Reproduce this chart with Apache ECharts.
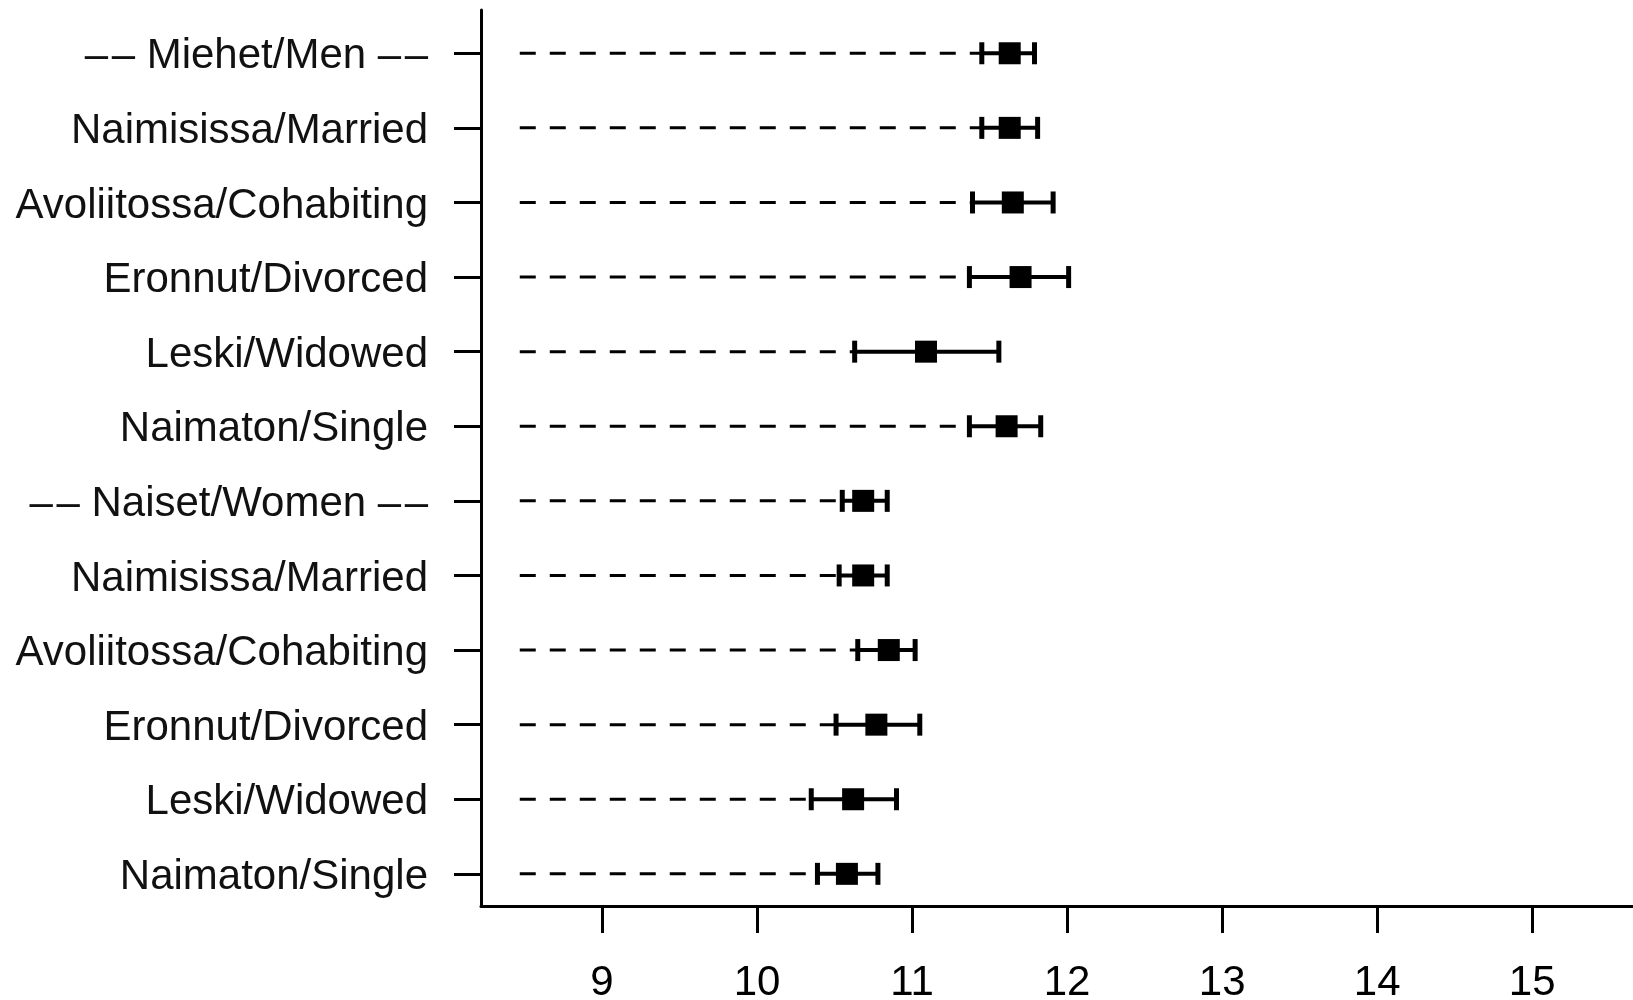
<!DOCTYPE html>
<html>
<head>
<meta charset="utf-8">
<script src="https://cdn.jsdelivr.net/npm/echarts@6/dist/echarts.min.js"></script>
<style>
html,body{margin:0;padding:0;background:#fff;}
#chart{width:1633px;height:1000px;}
</style>
</head>
<body>
<div id="chart"></div>
<script>
const categories = [
  '–\u200A– Miehet/Men –\u200A–',
  'Naimisissa/Married',
  'Avoliitossa/Cohabiting',
  'Eronnut/Divorced',
  'Leski/Widowed',
  'Naimaton/Single',
  '–\u200A– Naiset/Women –\u200A–',
  'Naimisissa/Married',
  'Avoliitossa/Cohabiting',
  'Eronnut/Divorced',
  'Leski/Widowed',
  'Naimaton/Single'
];
const estimate = [11.63, 11.63, 11.65, 11.70, 11.09, 11.61, 10.685, 10.685, 10.85, 10.77, 10.62, 10.58];
const lower    = [11.45, 11.45, 11.39, 11.37, 10.63, 11.37, 10.55, 10.53, 10.65, 10.51, 10.35, 10.39];
const upper    = [11.79, 11.81, 11.91, 12.01, 11.56, 11.83, 10.84, 10.84, 11.02, 11.05, 10.90, 10.78];
const xTicks = [9, 10, 11, 12, 13, 14, 15];
const dashStart = 8.47;

const rows = categories.map((c, i) => i + 1);
const FONT = "'Liberation Sans', Arial, sans-serif";

const chart = echarts.init(document.getElementById('chart'), null, {renderer: 'canvas'});

const option = {
  backgroundColor: '#ffffff',
  animation: false,
  grid: {left: 481, right: 0, top: 10, bottom: 94, containLabel: false, outerBoundsMode: 'none'},
  xAxis: {
    type: 'value',
    min: 8.22,
    max: 15.65,
    splitLine: {show: false},
    axisLine: {show: true, onZero: false, lineStyle: {color: '#000', width: 3}},
    axisTick: {show: true, length: 27, lineStyle: {color: '#000', width: 3}, customValues: xTicks},
    axisLabel: {
      show: true, customValues: xTicks, color: '#000', fontSize: 42, fontFamily: FONT,
      margin: 56, showMinLabel: true, showMaxLabel: true
    }
  },
  yAxis: {
    type: 'value',
    inverse: true,
    min: 0.42,
    max: 12.431,
    splitLine: {show: false},
    axisLine: {show: true, onZero: false, lineStyle: {color: '#000', width: 3}},
    axisTick: {show: true, length: 27, lineStyle: {color: '#000', width: 3}, customValues: rows},
    axisLabel: {
      show: true, customValues: rows, color: '#111', fontSize: 42, fontFamily: FONT,
      margin: 53,
      formatter: v => '{t|' + (categories[Math.round(v) - 1] || '') + '}',
      rich: {
        t: {fontSize: 42, fontFamily: FONT, color: '#111', padding: [7, 0, 0, 0]}
      }
    }
  },
  series: [
    {
      type: 'custom',
      data: rows.map((r, i) => [lower[i], upper[i], r]),
      renderItem: function (params, api) {
        const lo = api.value(0), hi = api.value(1), r = api.value(2);
        const pStart = api.coord([dashStart, r]);
        const pLo = api.coord([lo, r]);
        const pHi = api.coord([hi, r]);
        const capH = 11;
        return {
          type: 'group',
          children: [
            {type: 'line', shape: {x1: pStart[0], y1: pStart[1], x2: pLo[0], y2: pLo[1]},
             style: {stroke: '#000', lineWidth: 3, lineDash: [16, 14]}},
            {type: 'line', shape: {x1: pLo[0], y1: pLo[1], x2: pHi[0], y2: pHi[1]},
             style: {stroke: '#000', lineWidth: 4}},
            {type: 'line', shape: {x1: pLo[0], y1: pLo[1] - capH, x2: pLo[0], y2: pLo[1] + capH},
             style: {stroke: '#000', lineWidth: 5}},
            {type: 'line', shape: {x1: pHi[0], y1: pHi[1] - capH, x2: pHi[0], y2: pHi[1] + capH},
             style: {stroke: '#000', lineWidth: 5}}
          ]
        };
      },
      z: 2
    },
    {
      type: 'scatter',
      data: estimate.map((v, i) => [v, rows[i]]),
      symbol: 'rect',
      symbolSize: 22,
      itemStyle: {color: '#000', opacity: 1},
      emphasis: {disabled: true},
      z: 3
    }
  ]
};
chart.setOption(option);
</script>
</body>
</html>
